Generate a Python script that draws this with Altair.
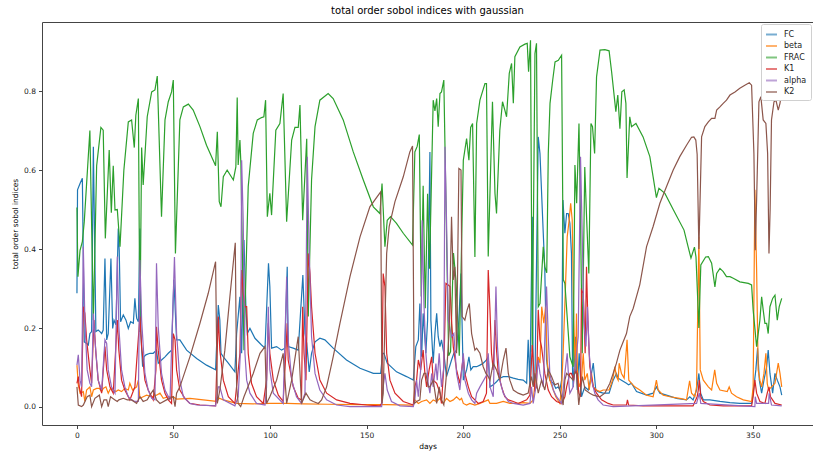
import altair as alt
import pandas as pd

TITLE = "total order sobol indices with gaussian"
X_TITLE = "days"
Y_TITLE = "total order sobol indices"
SERIES = ["FC", "beta", "FRAC", "K1", "alpha", "K2"]
COLORS = ["#1f77b4", "#ff7f0e", "#2ca02c", "#d62728", "#9467bd", "#8c564b"]
X_TICKS = [0, 50, 100, 150, 200, 250, 300, 350]
Y_TICKS = [0.0, 0.2, 0.4, 0.6, 0.8]

fc_days = [0, 0.3, 1.6, 2.8, 3.8, 5.0, 5.9, 6.7, 7.6, 8.5, 9.8, 11.0, 11.9, 12.8, 13.6, 14.5, 15.4, 16.2, 17.6, 18.5, 19.2, 20.2, 21.4, 21.9, 22.6, 24.0, 25.4, 26.6, 27.8, 29.2, 30.0, 30.9, 31.8, 32.6, 33.1, 34.0, 34.7, 35.7, 37.8, 39.5, 41.2, 42.1, 43.8, 45.6, 47.3, 49.0, 50.2, 51.6, 53.3, 56.8, 62.0, 67.1, 71.8, 73.2, 74.0, 74.6, 75.8, 78.4, 81.8, 82.7, 84.4, 85.3, 86.5, 87.5, 88.2, 89.6, 92.2, 95.6, 97.4, 99.2, 99.9, 100.8, 103.4, 106.0, 107.7, 108.9, 109.4, 112.0, 114.6, 117.0, 118.1, 119.0, 120.3, 121.5, 123.3, 125.8, 128.4, 132.7, 139.6, 146.6, 153.5, 157.3, 158.3, 159.0, 160.7, 165.5, 170.7, 174.2, 175.5, 176.8, 177.6, 178.5, 179.3, 180.7, 181.6, 182.8, 183.3, 184.5, 185.4, 186.3, 187.1, 188.0, 188.8, 190.0, 191.4, 194.0, 195.2, 196.6, 197.8, 198.9, 200.1, 201.8, 203.0, 204.0, 205.2, 207.0, 208.7, 210.4, 212.1, 213.0, 213.9, 215.6, 217.3, 219.0, 220.8, 223.4, 226.0, 228.5, 231.1, 232.9, 233.7, 234.6, 235.8, 236.3, 237.2, 238.9, 239.8, 241.5, 242.3, 243.2, 244.1, 244.9, 246.7, 248.0, 249.2, 250.1, 251.0, 251.7, 252.7, 253.6, 254.4, 255.3, 256.1, 256.7, 257.0, 258.2, 259.1, 260.1, 261.3, 263.0, 264.8, 265.6, 267.4, 268.7, 269.9, 272.5, 275.6, 277.7, 279.4, 280.3, 282.0, 284.6, 285.7, 287.2, 289.8, 295.0, 298.4, 300.1, 301.9, 305.3, 310.5, 315.7, 317.4, 319.1, 320.9, 322.1, 323.0, 324.4, 327.8, 333.0, 338.2, 343.3, 349.4, 350.2, 351.6, 352.5, 353.4, 354.6, 355.8, 357.2, 358.0, 358.9, 360.3, 361.5, 362.7, 364.1, 365]
fc_vals = [0.288, 0.55, 0.566, 0.579, 0.165, 0.161, 0.157, 0.186, 0.191, 0.659, 0.191, 0.195, 0.191, 0.186, 0.195, 0.376, 0.170, 0.186, 0.376, 0.199, 0.22, 0.208, 0.452, 0.397, 0.216, 0.233, 0.22, 0.199, 0.216, 0.212, 0.275, 0.225, 0.216, 0.452, 0.186, 0.102, 0.127, 0.132, 0.136, 0.136, 0.144, 0.111, 0.119, 0.127, 0.136, 0.144, 0.322, 0.17, 0.17, 0.144, 0.123, 0.106, 0.094, 0.258, 0.22, 0.136, 0.127, 0.111, 0.089, 0.186, 0.279, 0.136, 0.423, 0.254, 0.186, 0.199, 0.174, 0.157, 0.149, 0.364, 0.305, 0.149, 0.153, 0.144, 0.149, 0.355, 0.153, 0.149, 0.144, 0.334, 0.186, 0.161, 0.089, 0.136, 0.165, 0.174, 0.170, 0.149, 0.119, 0.098, 0.085, 0.085, 0.136, 0.136, 0.111, 0.089, 0.077, 0.068, 0.153, 0.170, 0.262, 0.127, 0.237, 0.136, 0.22, 0.646, 0.22, 0.111, 0.186, 0.237, 0.178, 0.153, 0.170, 0.136, 0.077, 0.119, 0.136, 0.144, 0.22, 0.338, 0.068, 0.094, 0.127, 0.094, 0.102, 0.102, 0.106, 0.111, 0.119, 0.127, 0.051, 0.056, 0.064, 0.073, 0.077, 0.077, 0.073, 0.070, 0.068, 0.060, 0.170, 0.056, 0.482, 0.060, 0.068, 0.684, 0.642, 0.44, 0.347, 0.119, 0.085, 0.068, 0.060, 0.047, 0.051, 0.043, 0.068, 0.524, 0.44, 0.49, 0.49, 0.465, 0.389, 0.085, 0.051, 0.178, 0.043, 0.136, 0.026, 0.051, 0.043, 0.060, 0.111, 0.043, 0.039, 0.035, 0.035, 0.068, 0.085, 0.073, 0.068, 0.060, 0.056, 0.060, 0.039, 0.030, 0.035, 0.051, 0.035, 0.030, 0.022, 0.018, 0.026, 0.018, 0.043, 0.085, 0.035, 0.018, 0.018, 0.014, 0.011, 0.009, 0.009, 0.035, 0.094, 0.149, 0.068, 0.035, 0.068, 0.102, 0.144, 0.085, 0.035, 0.085, 0.068, 0.051, 0.030]

beta_days = [0, 0.7, 1.6, 3.3, 4.1, 5.0, 6.7, 7.6, 8.5, 10.2, 11.6, 12.8, 13.6, 15.0, 16.2, 17.4, 18.8, 20.2, 21.4, 23.1, 24.8, 26.6, 27.4, 28.8, 30.9, 31.8, 32.6, 34.3, 36.1, 38.7, 41.2, 43.0, 44.7, 47.3, 49.9, 51.6, 58.5, 65.4, 72.3, 73.7, 75.8, 82.7, 91.3, 99.9, 108.6, 117.2, 130, 145, 160, 174.2, 175.0, 176.8, 178.5, 181.1, 182.8, 184.5, 186.3, 188.0, 189.7, 191.4, 193.2, 194.9, 196.6, 198.3, 199.2, 200.1, 201.8, 203.5, 206.1, 208.7, 213.0, 213.9, 217.3, 220.8, 224.2, 228.5, 231.1, 234.6, 236.3, 238.0, 238.9, 239.8, 240.7, 241.8, 242.7, 243.6, 244.9, 246.7, 248.0, 250.1, 251.0, 251.8, 252.7, 253.9, 254.9, 255.7, 256.5, 257.3, 258.2, 258.7, 259.2, 260.1, 261.3, 262.2, 263.0, 264.3, 265.3, 266.5, 267.4, 269.1, 270.8, 272.5, 275.6, 277.4, 278.6, 279.4, 280.3, 280.8, 282.0, 283.4, 284.9, 285.8, 287.2, 288.9, 291.5, 295.0, 298.4, 300.1, 301.0, 303.6, 307.1, 312.2, 315.7, 317.3, 318.3, 320.0, 320.9, 322.1, 322.8, 324.4, 327.0, 328.7, 330.3, 331.3, 333.0, 336.8, 337.8, 339.0, 341.6, 345.1, 349.4, 350.2, 351.1, 352.0, 352.8, 353.7, 354.6, 355.8, 356.8, 357.5, 358.2, 359.7, 361.5, 363.2, 364.1, 365]
beta_vals = [0.106, 0.056, 0.035, 0.039, 0.014, 0.043, 0.051, 0.026, 0.043, 0.047, 0.047, 0.039, 0.047, 0.051, 0.035, 0.047, 0.043, 0.039, 0.043, 0.039, 0.047, 0.043, 0.060, 0.043, 0.051, 0.068, 0.022, 0.026, 0.030, 0.026, 0.030, 0.035, 0.022, 0.026, 0.026, 0.020, 0.022, 0.018, 0.014, 0.022, 0.018, 0.009, 0.008, 0.009, 0.009, 0.008, 0.007, 0.006, 0.006, 0.005, 0.018, 0.009, 0.014, 0.018, 0.009, 0.018, 0.014, 0.022, 0.009, 0.022, 0.014, 0.018, 0.026, 0.018, 0.022, 0.009, 0.005, 0.009, 0.005, 0.009, 0.018, 0.009, 0.009, 0.014, 0.009, 0.009, 0.011, 0.009, 0.018, 0.094, 0.127, 0.111, 0.254, 0.212, 0.254, 0.111, 0.068, 0.043, 0.026, 0.009, 0.051, 0.136, 0.262, 0.431, 0.473, 0.516, 0.473, 0.22, 0.085, 0.237, 0.094, 0.051, 0.068, 0.136, 0.068, 0.085, 0.043, 0.085, 0.051, 0.043, 0.039, 0.043, 0.043, 0.068, 0.102, 0.077, 0.068, 0.111, 0.085, 0.073, 0.17, 0.068, 0.060, 0.051, 0.043, 0.030, 0.026, 0.068, 0.043, 0.030, 0.026, 0.022, 0.018, 0.066, 0.035, 0.026, 0.051, 0.431, 0.094, 0.068, 0.051, 0.043, 0.094, 0.060, 0.043, 0.039, 0.051, 0.035, 0.026, 0.018, 0.014, 0.051, 0.55, 0.347, 0.094, 0.068, 0.051, 0.085, 0.136, 0.060, 0.043, 0.051, 0.060, 0.111, 0.085, 0.051]

frac_days = [0, 0.5, 1.6, 2.8, 3.8, 6.7, 8.5, 10.2, 12.4, 13.6, 14.7, 16.7, 17.8, 18.8, 19.7, 20.9, 22.3, 24.3, 26.6, 28.3, 29.7, 30.5, 31.8, 32.6, 33.5, 34.3, 36.4, 38.7, 40.4, 41.6, 43.8, 45.6, 47.3, 49.0, 49.9, 51.0, 53.3, 55.1, 57.7, 60.2, 63.7, 67.1, 71.8, 72.7, 73.7, 74.6, 75.8, 77.8, 81.0, 82.3, 83.0, 83.5, 84.4, 84.9, 86.5, 88.7, 91.3, 93.4, 95.6, 96.8, 97.7, 98.6, 99.9, 100.8, 103.0, 105.1, 106.8, 108.6, 111.2, 112.9, 114.6, 115.5, 116.9, 119.0, 119.8, 121.5, 123.3, 125.8, 130.1, 132.7, 137.9, 143.1, 148.3, 153.5, 156.9, 158.0, 159.5, 160.7, 162.4, 165.5, 169.0, 173.8, 175.0, 176.2, 177.3, 178.3, 179.3, 180.4, 181.6, 182.6, 184.5, 185.4, 186.3, 187.1, 188.0, 188.8, 190.0, 192.5, 193.5, 195.0, 196.3, 198.0, 200.1, 201.8, 203.0, 203.9, 204.9, 206.1, 207.0, 208.7, 211.3, 212.1, 213.0, 214.0, 215.2, 216.5, 217.3, 219.0, 220.4, 221.6, 222.5, 223.9, 225.1, 226.0, 226.8, 229.4, 232.0, 233.2, 233.9, 234.9, 235.8, 237.2, 238.0, 238.9, 239.8, 241.5, 242.3, 243.3, 244.1, 245.0, 246.4, 247.6, 249.3, 251.0, 251.9, 252.7, 255.3, 257.0, 257.9, 258.8, 260.0, 260.8, 261.7, 263.0, 264.0, 265.1, 266.2, 267.0, 268.1, 269.1, 270.9, 273.4, 275.6, 276.9, 279.1, 280.1, 281.2, 282.2, 283.4, 284.3, 284.9, 286.3, 287.2, 289.5, 293.2, 296.7, 298.4, 300.1, 301.4, 304.5, 308.8, 314.4, 316.5, 318.0, 319.8, 320.6, 322.1, 323.1, 325.6, 327.0, 328.7, 330.4, 331.3, 333.0, 334.7, 336.4, 338.2, 339.9, 343.3, 347.7, 349.4, 350.2, 352.0, 353.7, 354.6, 355.4, 356.3, 357.2, 358.0, 358.9, 360.3, 361.5, 362.7, 363.7, 365]
frac_vals = [0.505, 0.33, 0.397, 0.419, 0.47, 0.70, 0.22, 0.611, 0.708, 0.701, 0.427, 0.651, 0.492, 0.611, 0.499, 0.50, 0.406, 0.60, 0.722, 0.727, 0.657, 0.739, 0.781, 0.19, 0.657, 0.562, 0.735, 0.798, 0.803, 0.838, 0.482, 0.727, 0.773, 0.798, 0.828, 0.389, 0.727, 0.760, 0.767, 0.752, 0.710, 0.663, 0.611, 0.697, 0.520, 0.507, 0.583, 0.60, 0.575, 0.608, 0.784, 0.613, 0.676, 0.617, 0.144, 0.558, 0.693, 0.727, 0.733, 0.735, 0.777, 0.482, 0.541, 0.486, 0.701, 0.718, 0.794, 0.469, 0.676, 0.708, 0.708, 0.765, 0.473, 0.679, 0.229, 0.575, 0.710, 0.777, 0.794, 0.781, 0.727, 0.646, 0.575, 0.507, 0.490, 0.566, 0.406, 0.473, 0.482, 0.465, 0.44, 0.41, 0.646, 0.66, 0.69, 0.28, 0.56, 0.25, 0.54, 0.35, 0.777, 0.75, 0.781, 0.71, 0.794, 0.798, 0.828, 0.13, 0.14, 0.39, 0.32, 0.13, 0.625, 0.68, 0.625, 0.708, 0.718, 0.38, 0.718, 0.777, 0.819, 0.819, 0.381, 0.56, 0.773, 0.541, 0.49, 0.701, 0.773, 0.752, 0.735, 0.845, 0.870, 0.769, 0.887, 0.912, 0.919, 0.921, 0.849, 0.929, 0.14, 0.895, 0.921, 0.254, 0.262, 0.406, 0.355, 0.34, 0.642, 0.769, 0.828, 0.874, 0.878, 0.891, 0.322, 0.313, 0.127, 0.102, 0.613, 0.516, 0.718, 0.473, 0.136, 0.608, 0.473, 0.338, 0.718, 0.71, 0.642, 0.836, 0.904, 0.905, 0.902, 0.849, 0.748, 0.790, 0.705, 0.798, 0.803, 0.769, 0.58, 0.735, 0.71, 0.718, 0.684, 0.634, 0.583, 0.53, 0.554, 0.541, 0.50, 0.448, 0.406, 0.377, 0.405, 0.38, 0.20, 0.36, 0.38, 0.381, 0.364, 0.304, 0.338, 0.351, 0.343, 0.33, 0.33, 0.326, 0.317, 0.313, 0.309, 0.246, 0.153, 0.22, 0.279, 0.246, 0.212, 0.212, 0.186, 0.254, 0.275, 0.283, 0.22, 0.254, 0.275]

k1_days = [0, 0.7, 1.2, 2.4, 3.3, 4.1, 5.0, 6.7, 7.6, 8.8, 9.8, 11.0, 12.8, 14.5, 15.4, 17.1, 18.8, 20.9, 21.7, 23.1, 24.8, 26.6, 27.4, 30.0, 32.6, 33.5, 35.2, 36.9, 37.8, 39.5, 40.9, 41.2, 42.1, 43.8, 45.6, 47.3, 49.0, 49.9, 50.8, 51.6, 53.3, 55.9, 58.5, 63.7, 71.8, 73.2, 74.0, 75.8, 78.4, 81.8, 84.4, 85.3, 86.1, 87.0, 87.9, 88.7, 90.4, 93.0, 96.5, 98.2, 99.1, 99.9, 101.7, 104.3, 106.8, 108.2, 108.9, 109.4, 112.0, 114.6, 116.3, 116.9, 117.6, 118.6, 119.8, 120.7, 121.5, 123.3, 125.8, 129.3, 134.5, 141.4, 150.0, 156.9, 157.8, 158.6, 159.5, 160.4, 162.1, 164.7, 169.0, 174.2, 175.0, 175.9, 176.8, 178.0, 179.3, 180.2, 181.1, 182.4, 183.7, 184.5, 186.3, 188.0, 188.8, 190.0, 191.1, 192.3, 193.2, 194.0, 194.9, 196.6, 198.3, 200.1, 200.9, 202.7, 204.4, 206.1, 207.8, 210.4, 212.1, 213.0, 213.9, 214.7, 215.6, 216.5, 217.3, 218.2, 219.9, 221.6, 223.4, 226.0, 228.5, 232.9, 234.6, 235.8, 236.6, 237.2, 238.0, 238.9, 239.8, 240.6, 242.3, 244.1, 245.8, 248.4, 251.0, 252.7, 253.6, 255.3, 256.1, 257.3, 257.9, 259.1, 259.9, 260.8, 261.3, 262.2, 262.7, 263.2, 263.9, 264.6, 265.6, 267.4, 269.1, 271.7, 275.1, 277.7, 284.6, 285.1, 285.7, 293.2, 305.0, 319.1, 321.2, 321.8, 322.3, 323.1, 324.4, 327.8, 334.7, 349.4, 350.2, 351.1, 352.0, 353.7, 356.3, 357.5, 358.4, 359.2, 361.5, 365]
k1_vals = [0.060, 0.077, 0.051, 0.026, 0.254, 0.237, 0.170, 0.094, 0.060, 0.22, 0.136, 0.068, 0.035, 0.153, 0.094, 0.051, 0.035, 0.22, 0.144, 0.068, 0.043, 0.026, 0.018, 0.051, 0.229, 0.153, 0.068, 0.043, 0.035, 0.018, 0.094, 0.203, 0.144, 0.068, 0.035, 0.018, 0.009, 0.186, 0.170, 0.094, 0.043, 0.022, 0.009, 0.005, 0.003, 0.229, 0.144, 0.068, 0.026, 0.009, 0.136, 0.347, 0.288, 0.254, 0.254, 0.136, 0.060, 0.026, 0.009, 0.068, 0.212, 0.136, 0.068, 0.030, 0.014, 0.136, 0.212, 0.119, 0.051, 0.022, 0.018, 0.254, 0.136, 0.068, 0.389, 0.338, 0.254, 0.136, 0.068, 0.035, 0.018, 0.009, 0.005, 0.003, 0.009, 0.338, 0.305, 0.136, 0.068, 0.035, 0.014, 0.005, 0.051, 0.068, 0.119, 0.094, 0.144, 0.085, 0.051, 0.094, 0.127, 0.068, 0.060, 0.035, 0.009, 0.102, 0.313, 0.309, 0.305, 0.22, 0.153, 0.094, 0.060, 0.127, 0.085, 0.051, 0.026, 0.018, 0.009, 0.014, 0.035, 0.347, 0.246, 0.136, 0.094, 0.22, 0.144, 0.085, 0.051, 0.026, 0.018, 0.014, 0.009, 0.018, 0.030, 0.157, 0.094, 0.043, 0.051, 0.246, 0.170, 0.153, 0.085, 0.043, 0.026, 0.014, 0.009, 0.026, 0.051, 0.085, 0.085, 0.068, 0.094, 0.085, 0.035, 0.026, 0.296, 0.288, 0.22, 0.136, 0.355, 0.22, 0.102, 0.051, 0.035, 0.018, 0.009, 0.005, 0.005, 0.018, 0.005, 0.003, 0.003, 0.003, 0.026, 0.043, 0.068, 0.026, 0.014, 0.005, 0.003, 0.003, 0.026, 0.068, 0.035, 0.014, 0.009, 0.035, 0.051, 0.026, 0.009, 0.005]

alpha_days = [0, 0.7, 1.6, 2.4, 3.3, 4.1, 5.3, 6.7, 7.6, 8.5, 9.3, 11.0, 12.8, 14.5, 15.4, 16.2, 17.9, 19.7, 20.9, 21.7, 23.1, 24.8, 26.6, 28.3, 30.0, 31.8, 32.6, 33.5, 35.2, 36.9, 38.7, 40.4, 41.2, 42.1, 43.8, 45.6, 48.2, 50.5, 51.6, 53.3, 55.1, 58.5, 62.0, 71.8, 73.2, 74.0, 75.8, 81.8, 83.5, 84.8, 85.3, 86.1, 87.0, 87.9, 89.6, 93.0, 97.4, 98.2, 99.1, 99.9, 101.7, 106.8, 108.6, 109.4, 111.2, 113.7, 116.3, 118.1, 119.3, 120.3, 121.5, 123.3, 125.8, 129.3, 134.5, 141.4, 157.8, 158.6, 159.5, 160.7, 162.9, 167.3, 174.2, 175.0, 175.9, 176.8, 178.0, 178.8, 179.7, 180.7, 181.9, 182.8, 183.7, 184.5, 185.9, 186.6, 187.6, 188.8, 190.0, 190.6, 191.4, 192.3, 194.0, 195.2, 196.6, 198.3, 200.1, 200.9, 202.7, 204.4, 206.1, 207.0, 208.7, 212.1, 213.0, 213.9, 215.6, 217.0, 217.8, 219.0, 220.8, 223.4, 226.0, 231.1, 234.6, 235.4, 236.3, 237.7, 238.9, 239.8, 241.5, 243.2, 244.1, 244.9, 246.7, 248.4, 251.0, 252.7, 253.9, 254.9, 255.3, 257.0, 257.9, 259.6, 260.8, 261.7, 262.5, 263.6, 264.4, 265.3, 266.5, 268.2, 269.9, 272.5, 277.7, 320.9, 322.3, 323.1, 351.1, 351.3, 352.0, 358.2, 358.5, 359.7, 365]
alpha_vals = [0.106, 0.132, 0.068, 0.051, 0.406, 0.22, 0.094, 0.060, 0.051, 0.237, 0.170, 0.068, 0.043, 0.170, 0.161, 0.094, 0.051, 0.035, 0.381, 0.203, 0.094, 0.051, 0.026, 0.018, 0.014, 0.014, 0.372, 0.22, 0.085, 0.043, 0.022, 0.018, 0.364, 0.203, 0.085, 0.043, 0.018, 0.38, 0.186, 0.068, 0.026, 0.009, 0.005, 0.003, 0.051, 0.051, 0.018, 0.003, 0.026, 0.153, 0.625, 0.473, 0.136, 0.068, 0.035, 0.009, 0.005, 0.051, 0.254, 0.094, 0.035, 0.009, 0.33, 0.170, 0.068, 0.026, 0.009, 0.035, 0.634, 0.389, 0.178, 0.085, 0.043, 0.018, 0.005, 0.001, 0.001, 0.051, 0.085, 0.043, 0.014, 0.003, 0.001, 0.018, 0.068, 0.026, 0.094, 0.473, 0.262, 0.136, 0.060, 0.035, 0.085, 0.051, 0.110, 0.068, 0.136, 0.051, 0.102, 0.659, 0.473, 0.22, 0.178, 0.186, 0.085, 0.043, 0.136, 0.068, 0.035, 0.018, 0.009, 0.035, 0.051, 0.080, 0.136, 0.051, 0.026, 0.305, 0.153, 0.068, 0.035, 0.014, 0.009, 0.005, 0.009, 0.051, 0.009, 0.051, 0.119, 0.085, 0.051, 0.305, 0.178, 0.085, 0.043, 0.026, 0.009, 0.085, 0.136, 0.051, 0.035, 0.051, 0.094, 0.178, 0.634, 0.431, 0.22, 0.153, 0.254, 0.136, 0.068, 0.035, 0.018, 0.005, 0.001, 0.009, 0.035, 0.009, 0.001, 0.026, 0.009, 0.009, 0.035, 0.005, 0.003]

k2_days = [0, 0.7, 2.4, 3.3, 5.3, 6.7, 7.6, 9.3, 11.6, 12.8, 14.0, 15.4, 16.2, 17.4, 19.7, 20.9, 21.7, 24.0, 26.1, 28.3, 30.9, 32.6, 34.3, 36.4, 37.8, 39.5, 41.2, 43.0, 46.4, 49.9, 50.8, 51.6, 53.3, 58.5, 63.7, 68.0, 71.8, 72.7, 74.0, 76.6, 79.2, 82.0, 82.7, 83.5, 84.8, 86.5, 91.3, 94.8, 97.4, 98.2, 99.9, 103.4, 106.8, 108.6, 111.2, 114.6, 116.3, 118.6, 120.7, 122.4, 125.0, 126.7, 129.3, 132.7, 136.2, 141.4, 146.6, 151.7, 157.3, 158.0, 158.6, 160.4, 161.7, 164.7, 169.0, 172.4, 173.8, 174.7, 175.9, 177.6, 178.5, 179.7, 180.7, 181.9, 182.8, 184.5, 186.3, 187.6, 188.8, 190.0, 191.4, 192.8, 194.0, 194.9, 195.7, 196.6, 197.8, 198.9, 199.5, 200.9, 202.1, 203.2, 204.4, 206.1, 207.0, 208.7, 210.4, 211.8, 213.0, 213.9, 215.6, 217.3, 219.0, 220.8, 222.2, 223.4, 224.2, 226.0, 228.5, 231.1, 233.7, 234.6, 235.4, 236.3, 237.2, 238.9, 240.6, 242.3, 244.1, 245.8, 247.5, 249.2, 251.0, 251.8, 252.7, 253.6, 255.3, 257.0, 257.9, 258.7, 259.9, 260.8, 261.8, 263.2, 265.6, 267.4, 270.8, 273.4, 276.0, 277.7, 279.4, 281.2, 282.9, 284.6, 286.3, 288.1, 291.5, 295.0, 298.4, 301.9, 305.3, 308.8, 312.2, 315.7, 318.3, 319.5, 320.5, 321.2, 322.1, 323.5, 325.2, 327.0, 328.7, 330.4, 331.3, 333.0, 334.7, 336.4, 338.2, 340.8, 343.3, 345.9, 348.2, 349.4, 350.6, 351.3, 352.0, 353.2, 354.2, 355.4, 356.8, 357.7, 358.4, 359.0, 359.7, 361.0, 362.0, 363.2, 364.1, 365]
k2_vals = [0.051, 0.005, 0.001, 0.005, 0.026, 0.030, 0.001, 0.022, 0.030, 0.001, 0.018, 0.018, 0.001, 0.026, 0.018, 0.014, 0.018, 0.022, 0.018, 0.018, 0.009, 0.026, 0.014, 0.018, 0.030, 0.043, 0.018, 0.009, 0.018, 0.026, 0.001, 0.035, 0.051, 0.127, 0.212, 0.288, 0.368, 0.009, 0.043, 0.144, 0.279, 0.416, 0.051, 0.009, 0.001, 0.026, 0.085, 0.136, 0.153, 0.009, 0.026, 0.068, 0.136, 0.009, 0.068, 0.178, 0.009, 0.035, 0.018, 0.014, 0.009, 0.018, 0.051, 0.127, 0.212, 0.33, 0.431, 0.507, 0.545, 0.009, 0.035, 0.389, 0.457, 0.52, 0.583, 0.646, 0.661, 0.009, 0.014, 0.018, 0.068, 0.085, 0.085, 0.051, 0.051, 0.068, 0.009, 0.051, 0.018, 0.005, 0.085, 0.195, 0.482, 0.322, 0.355, 0.136, 0.604, 0.60, 0.229, 0.22, 0.246, 0.262, 0.186, 0.144, 0.149, 0.136, 0.102, 0.085, 0.077, 0.068, 0.111, 0.094, 0.068, 0.119, 0.149, 0.085, 0.068, 0.043, 0.035, 0.030, 0.035, 0.060, 0.077, 0.051, 0.085, 0.035, 0.068, 0.043, 0.094, 0.077, 0.056, 0.060, 0.026, 0.005, 0.068, 0.085, 0.077, 0.068, 0.089, 0.085, 0.005, 0.043, 0.077, 0.043, 0.035, 0.030, 0.026, 0.035, 0.060, 0.085, 0.111, 0.144, 0.165, 0.186, 0.229, 0.25, 0.31, 0.406, 0.457, 0.516, 0.558, 0.60, 0.634, 0.663, 0.683, 0.684, 0.676, 0.64, 0.40, 0.684, 0.71, 0.722, 0.731, 0.731, 0.752, 0.76, 0.769, 0.777, 0.79, 0.798, 0.807, 0.815, 0.821, 0.815, 0.642, 0.397, 0.524, 0.773, 0.786, 0.727, 0.718, 0.642, 0.389, 0.50, 0.727, 0.773, 0.777, 0.752, 0.769, 0.798]

SERIES_DATA = {
    "FC": (fc_days, fc_vals),
    "beta": (beta_days, beta_vals),
    "FRAC": (frac_days, frac_vals),
    "K1": (k1_days, k1_vals),
    "alpha": (alpha_days, alpha_vals),
    "K2": (k2_days, k2_vals),
}

FONT = "DejaVu Sans"

color_scale = alt.Scale(domain=SERIES, range=COLORS)
x_scale = alt.Scale(domain=[-18.1, 381.2], nice=False, zero=False)
y_scale = alt.Scale(domain=[-0.0456, 0.975], nice=False, zero=False)

layers = []
for i, name in enumerate(SERIES):
    d, v = SERIES_DATA[name]
    df = pd.DataFrame({"day": d, "value": v, "series": name, "idx": range(len(d))})
    enc = dict(
        x=alt.X("day:Q", scale=x_scale,
                axis=alt.Axis(title=X_TITLE, values=X_TICKS, format="d")),
        y=alt.Y("value:Q", scale=y_scale,
                axis=alt.Axis(title=Y_TITLE, values=Y_TICKS, format=".1f")),
        order=alt.Order("idx:Q"),
    )
    if i == 0:
        enc["color"] = alt.Color("series:N", scale=color_scale,
                                 legend=alt.Legend(title=None, orient="top-right"))
    else:
        enc["color"] = alt.Color("series:N", scale=color_scale, legend=None)
    layers.append(alt.Chart(df).mark_line(strokeWidth=1.2).encode(**enc))

chart = alt.layer(*layers).properties(
    width=771,
    height=403,
    title=alt.TitleParams(TITLE, fontSize=10, font=FONT, fontWeight="normal",
                          color="#000", anchor="middle", offset=6),
    padding={"left": 42, "top": 22, "right": 0, "bottom": 28},
    autosize=alt.AutoSizeParams(type="none"),
).configure_view(
    stroke="#444", strokeWidth=1
).configure_axis(
    domain=False, grid=False, labelFont=FONT, titleFont=FONT,
    labelFontSize=7.5, titleFontSize=7.5, titleFontWeight="normal",
    labelColor="#222", titleColor="#000", tickColor="#444", tickSize=3.5,
    labelPadding=3
).configure_axisX(
    titlePadding=3
).configure_axisY(
    titlePadding=4
).configure_legend(
    labelFont=FONT, labelFontSize=8, labelColor="#222",
    fillColor="white", strokeColor="#d0d0d0", cornerRadius=2,
    padding=4, offset=2, symbolType="stroke", symbolStrokeWidth=2,
    symbolSize=120, rowPadding=0.5, symbolOpacity=0.6, labelOffset=6
)

chart.save("out.html", embed_options={"renderer": "svg", "actions": False})
